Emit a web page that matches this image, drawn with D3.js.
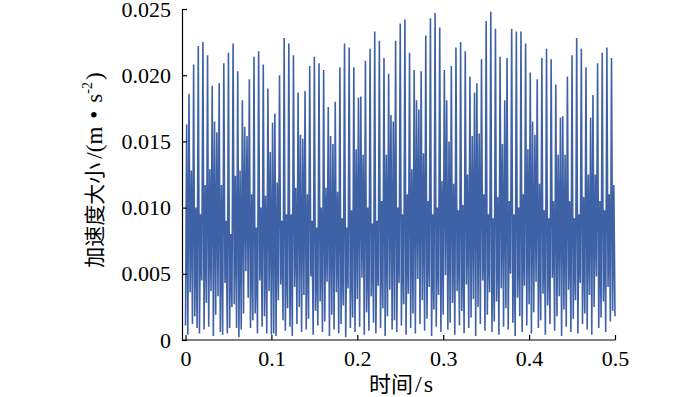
<!DOCTYPE html>
<html>
<head>
<meta charset="utf-8">
<script src="https://cdn.jsdelivr.net/npm/d3@7"></script>
<style>
  body { margin: 0; background: #fff; }
  svg { display: block; }
  .serif { font-family: "Liberation Serif", "Times New Roman", "DejaVu Serif", serif; }
  .cjk { font-family: "Noto Sans CJK SC", sans-serif; }
</style>
</head>
<body>
<script>
// 加速度时程曲线 (0 ~ 0.5 s)
const width = 700, height = 397;

const xTicks = [0, 0.1, 0.2, 0.3, 0.4, 0.5];
const xTickLabels = ["0", "0.1", "0.2", "0.3", "0.4", "0.5"];
const yTicks = [0, 0.005, 0.010, 0.015, 0.020, 0.025];
const yTickLabels = ["0", "0.005", "0.010", "0.015", "0.020", "0.025"];
const duration = 0.5;

// local maxima left to right
const peaks = [
  0.0163, 0.0186, 0.0128, 0.0208, 0.0100, 0.0222, 0.0095, 0.0225, 0.0117, 0.0215,
  0.0129, 0.0192, 0.0165, 0.0157, 0.0194, 0.0117, 0.0209, 0.0090, 0.0217, 0.0080,
  0.0224, 0.0124, 0.0203, 0.0128, 0.0181, 0.0161, 0.0154, 0.0197, 0.0110, 0.0214,
  0.0085, 0.0218, 0.0100, 0.0208, 0.0109, 0.0190, 0.0142, 0.0164, 0.0171, 0.0119,
  0.0200, 0.0090, 0.0228, 0.0095, 0.0224,
  0.0095, 0.0215, 0.0115, 0.0187, 0.0155, 0.0152, 0.0188, 0.0110, 0.0207, 0.0090,
  0.0214, 0.0085, 0.0209, 0.0100, 0.0204, 0.0115, 0.0176, 0.0154, 0.0148, 0.0180,
  0.0112, 0.0206, 0.0092, 0.0224, 0.0085, 0.0221, 0.0098, 0.0206, 0.0144, 0.0183,
  0.0184, 0.0140, 0.0211, 0.0100, 0.0220, 0.0088, 0.0233, 0.0090, 0.0226, 0.0105,
  0.0213, 0.0140, 0.0201, 0.0170, 0.0165,
  0.0226, 0.0100, 0.0239, 0.0095, 0.0242, 0.0110, 0.0217, 0.0129, 0.0204, 0.0181,
  0.0174, 0.0203, 0.0141, 0.0230, 0.0105, 0.0243, 0.0095, 0.0247, 0.0100, 0.0236,
  0.0120, 0.0204, 0.0181, 0.0150, 0.0207, 0.0118, 0.0221, 0.0098, 0.0225, 0.0102,
  0.0218, 0.0125, 0.0199, 0.0154, 0.0187, 0.0194, 0.0156, 0.0212, 0.0110, 0.0241,
  0.0095, 0.0248, 0.0092, 0.0235, 0.0108, 0.0214, 0.0148, 0.0181,
  0.0213, 0.0105, 0.0235, 0.0095, 0.0233, 0.0100, 0.0233, 0.0110, 0.0224, 0.0144,
  0.0202, 0.0165, 0.0155, 0.0197, 0.0118, 0.0213, 0.0098, 0.0220, 0.0092, 0.0212,
  0.0105, 0.0193, 0.0140, 0.0168, 0.0169, 0.0140, 0.0199, 0.0105, 0.0215, 0.0092,
  0.0228, 0.0095, 0.0220, 0.0108, 0.0206, 0.0125, 0.0168, 0.0185, 0.0125, 0.0209,
  0.0105, 0.0217, 0.0098, 0.0221, 0.0110, 0.0213, 0.0117
];

// local minima between them
const valleys = [
  0.0011, 0.0004, 0.0036, 0.0012, 0.0018, 0.0009, 0.0005, 0.0045, 0.0008, 0.0028, 0.0010, 0.0037, 0.0003, 0.0019, 0.0033,
  0.0006, 0.0004, 0.0043, 0.0005, 0.0009, 0.0025, 0.0027, 0.0009, 0.0002, 0.0008, 0.0020, 0.0052, 0.0032, 0.0009, 0.0015,
  0.0020, 0.0005, 0.0045, 0.0010, 0.0018, 0.0005, 0.0037, 0.0004, 0.0005, 0.0003, 0.0030, 0.0042, 0.0015, 0.0007, 0.0024,
  0.0010, 0.0003, 0.0040, 0.0012, 0.0025, 0.0006, 0.0034, 0.0008, 0.0016, 0.0048, 0.0004, 0.0022, 0.0011, 0.0029, 0.0006,
  0.0014, 0.0044, 0.0003, 0.0019, 0.0008, 0.0036, 0.0005, 0.0012, 0.0026, 0.0002, 0.0039, 0.0009, 0.0017, 0.0006, 0.0031,
  0.0010, 0.0047, 0.0004, 0.0021, 0.0007, 0.0033, 0.0013, 0.0005, 0.0041, 0.0009, 0.0024, 0.0003, 0.0018, 0.0038, 0.0008,
  0.0015, 0.0006, 0.0043, 0.0011, 0.0027, 0.0004, 0.0035, 0.0009, 0.0020, 0.0005, 0.0046, 0.0012, 0.0030, 0.0007, 0.0016,
  0.0040, 0.0003, 0.0023, 0.0010, 0.0034, 0.0006, 0.0019, 0.0049, 0.0008, 0.0013, 0.0028, 0.0004, 0.0037, 0.0011, 0.0022,
  0.0005, 0.0042, 0.0009, 0.0017, 0.0031, 0.0003, 0.0025, 0.0012, 0.0045, 0.0007, 0.0019, 0.0036, 0.0006, 0.0014, 0.0029,
  0.0004, 0.0039, 0.0010, 0.0024, 0.0008, 0.0050, 0.0013, 0.0003, 0.0032, 0.0018, 0.0006, 0.0041, 0.0011, 0.0027, 0.0005,
  0.0021, 0.0044, 0.0009, 0.0015, 0.0035, 0.0004, 0.0026, 0.0012, 0.0047, 0.0007, 0.0018, 0.0033, 0.0003, 0.0023, 0.0010,
  0.0038, 0.0006, 0.0016, 0.0030, 0.0005, 0.0043, 0.0012, 0.0020, 0.0008, 0.0034, 0.0004, 0.0025, 0.0048, 0.0009, 0.0017,
  0.0029, 0.0006, 0.0040, 0.0014, 0.0022, 0.0018
];

// valley, peak, valley, peak ... evenly spaced over the record
const accel = [];
valleys.forEach((v, i) => {
  accel.push(v);
  if (i < peaks.length) accel.push(peaks[i]);
});
const dt = duration / (accel.length - 1);
const series = accel.map((a, i) => ({ t: i * dt, a: a }));

const svg = d3.select("body").append("svg")
  .attr("width", width)
  .attr("height", height);

const x = d3.scaleLinear().domain([0, 0.5]).range([185.5, 615]);
const y = d3.scaleLinear().domain([0, 0.025]).range([340, 9]);
const axisX0 = 182;

// signal
svg.append("path")
  .datum(series)
  .attr("fill", "none")
  .attr("stroke", "#3f62a7")
  .attr("stroke-width", 1.6)
  .attr("d", d3.line().x(d => x(d.t)).y(d => y(d.a)));

// y axis
const gy = svg.append("g")
  .attr("transform", `translate(${axisX0},0)`)
  .call(d3.axisLeft(y).tickValues(yTicks)
    .tickFormat((d, i) => yTickLabels[i])
    .tickSizeInner(-5).tickSizeOuter(0).tickPadding(11));

// x axis
const gx = svg.append("g")
  .attr("transform", `translate(0,${y(0)})`)
  .call(d3.axisBottom(x).tickValues(xTicks)
    .tickFormat((d, i) => xTickLabels[i])
    .tickSizeInner(-5).tickSizeOuter(0).tickPadding(10));
gx.select(".domain").remove();
gx.append("line")
  .attr("x1", axisX0).attr("x2", x(0.5) + 0.5)
  .attr("stroke", "#000").attr("stroke-width", 1.2);

[gx, gy].forEach(g => {
  g.attr("font-family", null).attr("font-size", null);
  g.selectAll(".domain, .tick line").attr("stroke", "#000").attr("stroke-width", 1.2);
  g.selectAll("text")
    .attr("class", "serif")
    .attr("fill", "#000")
    .attr("font-size", 22);
});

// axis titles
const xt = svg.append("text")
  .attr("x", 402).attr("y", 392)
  .attr("text-anchor", "middle")
  .attr("font-size", 22);
xt.append("tspan").attr("class", "cjk").text("时间");
xt.append("tspan").attr("class", "serif").attr("font-size", 24)
  .attr("dx", 2).attr("letter-spacing", 2).text("/s");

const yt = svg.append("text")
  .attr("transform", "translate(102,170) rotate(-90)")
  .attr("text-anchor", "middle")
  .attr("font-size", 21);
yt.append("tspan").attr("class", "cjk").text("加速度大小");
yt.append("tspan").attr("class", "serif").attr("font-size", 23).attr("dx", 4).text("/(m");
yt.append("tspan").attr("class", "serif").attr("font-size", 23).attr("dx", 8).text("•");
yt.append("tspan").attr("class", "serif").attr("font-size", 23).attr("dx", 8).text("s");
yt.append("tspan").attr("class", "serif").attr("font-size", 14).attr("dy", -10).text("-2");
yt.append("tspan").attr("class", "serif").attr("font-size", 23).attr("dx", 2).attr("dy", 10).text(")");
</script>
</body>
</html>
